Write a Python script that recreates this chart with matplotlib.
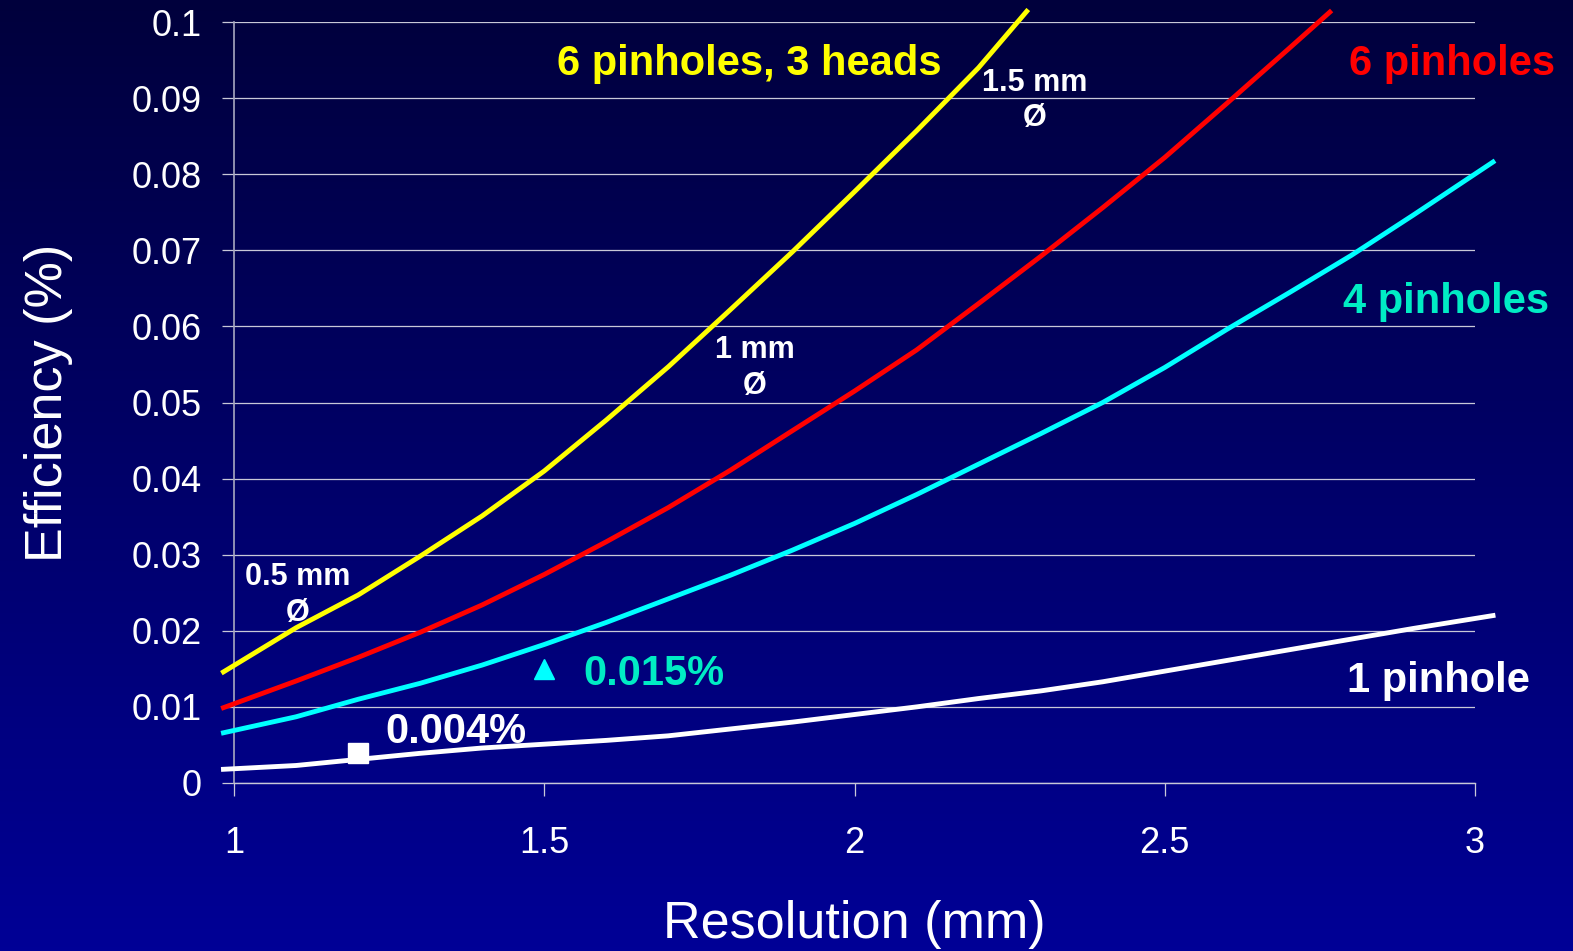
import numpy as np
import matplotlib
matplotlib.use('Agg')
import matplotlib.pyplot as plt
from matplotlib.colors import LinearSegmentedColormap

plt.rcParams['font.family'] = ['Liberation Sans', 'DejaVu Sans']

# resolution (mm) sample points
res_full = [0.983, 1.1, 1.2, 1.3, 1.4, 1.5, 1.6, 1.7, 1.8, 1.9, 2.0,
            2.1, 2.2, 2.3, 2.4, 2.5, 2.6, 2.7, 2.8, 2.9, 3.029]
res_6x3 = [0.983, 1.1, 1.2, 1.3, 1.4, 1.5, 1.6, 1.7, 1.8, 1.9, 2.0,
           2.1, 2.2, 2.2775]
res_6 = [0.983, 1.1, 1.2, 1.3, 1.4, 1.5, 1.6, 1.7, 1.8, 1.9, 2.0,
         2.1, 2.2, 2.3, 2.4, 2.5, 2.6, 2.7, 2.766]

# efficiency (%)
eff_6x3 = [0.0146, 0.0204, 0.0247, 0.0298, 0.0351, 0.0410, 0.0477, 0.0547,
           0.0622, 0.0698, 0.0777, 0.0857, 0.0940, 0.1014]
eff_6 = [0.0099, 0.0134, 0.0165, 0.0198, 0.0234, 0.0274, 0.0317, 0.0362,
         0.0411, 0.0463, 0.0515, 0.0569, 0.0630, 0.0692, 0.0756, 0.0822,
         0.0893, 0.0965, 0.1013]
eff_4 = [0.0066, 0.0087, 0.0110, 0.0131, 0.0155, 0.0182, 0.0211, 0.0242,
         0.0273, 0.0306, 0.0341, 0.0379, 0.0419, 0.0459, 0.0500, 0.0546,
         0.0596, 0.0644, 0.0693, 0.0746, 0.0816]
eff_1 = [0.0018, 0.0023, 0.0031, 0.0039, 0.0046, 0.0051, 0.0056, 0.0062,
         0.0071, 0.0080, 0.0090, 0.0100, 0.0111, 0.0121, 0.0133, 0.0147,
         0.0161, 0.0175, 0.0189, 0.0203, 0.0220]

# highlighted points
pt4_x, pt4_y = 1.5, 0.015
pt1_x, pt1_y = 1.2, 0.004

yticks = [0, 0.01, 0.02, 0.03, 0.04, 0.05, 0.06, 0.07, 0.08, 0.09, 0.1]
ytick_labels = ['0', '0.01', '0.02', '0.03', '0.04', '0.05', '0.06', '0.07',
                '0.08', '0.09', '0.1']
xticks = [1, 1.5, 2, 2.5, 3]
xtick_labels = ['1', '1.5', '2', '2.5', '3']

fig = plt.figure(figsize=(15.73, 9.51), dpi=100)

# gradient background
bg = fig.add_axes([0, 0, 1, 1], zorder=-10)
cmap = LinearSegmentedColormap.from_list('bg', ['#00003c', '#000096'])
bg.imshow(np.linspace(0, 1, 256).reshape(-1, 1), aspect='auto', cmap=cmap,
          extent=[0, 1, 0, 1], origin='upper')
bg.set_axis_off()

ax = fig.add_axes([234 / 1573, 1 - 783 / 951, (1475 - 234) / 1573, (783 - 22) / 951])
ax.set_facecolor('none')
ax.set_xlim(1, 3)
ax.set_ylim(0, 0.1)

grid_c = '#c8c8d8'
for s in ['top', 'right']:
    ax.spines[s].set_visible(False)
ax.spines['left'].set_color('#a8a8c0')
ax.spines['bottom'].set_color(grid_c)
ax.spines['left'].set_linewidth(1.2)
ax.spines['bottom'].set_linewidth(1.0)
ax.yaxis.grid(True, color=grid_c, linewidth=0.9)
ax.set_axisbelow(True)

ax.set_yticks(yticks)
ax.set_yticklabels(ytick_labels)
ax.set_xticks(xticks)
ax.set_xticklabels(xtick_labels)
ax.tick_params(axis='y', direction='out', length=9, width=0.9, color=grid_c,
               labelcolor='white', labelsize=26, pad=14)
ax.tick_params(axis='x', direction='out', length=9, width=0.9, color=grid_c,
               labelcolor='white', labelsize=26, pad=22)

ax.set_xlabel('Resolution (mm)', color='white', fontsize=37.5, labelpad=28)
ax.set_ylabel('Efficiency (%)', color='white', fontsize=37.5, labelpad=42)

lw = 3.5
ax.plot(res_6x3, eff_6x3, color='#ffff00', lw=lw, clip_on=False, zorder=3)
ax.plot(res_6, eff_6, color='#ff0000', lw=lw, clip_on=False, zorder=3)
ax.plot(res_full, eff_4, color='#00ffff', lw=lw, clip_on=False, zorder=3)
ax.plot(res_full, eff_1, color='white', lw=lw, clip_on=False, zorder=3)

ax.plot([pt4_x], [pt4_y], marker='^', color='#00ffff', ms=15, ls='none', zorder=4)
ax.plot([pt1_x], [pt1_y], marker='s', color='white', ms=15, ls='none', zorder=4)

lab = dict(fontsize=30, fontweight='bold', va='baseline', ha='left', clip_on=False)
ax.text(1.5205, 0.0930, '6 pinholes, 3 heads', color='#ffff00', **lab)
ax.text(2.797, 0.0930, '6 pinholes', color='#ff0000', **lab)
ax.text(2.787, 0.0618, '4 pinholes', color='#00ecc4', **lab)
ax.text(2.794, 0.0120, '1 pinhole', color='white', **lab)
ax.text(1.5624, 0.0129, '0.015%', color='#00ecc4', **lab)
ax.text(1.2434, 0.0053, '0.004%', color='white', **lab)

small = dict(fontsize=22, fontweight='bold', va='baseline', ha='center',
             color='white', clip_on=False)
for x, y1, y2, t in [(2.291, 0.0909, 0.0863, '1.5 mm'),
                     (1.8396, 0.0558, 0.0511, '1 mm'),
                     (1.103, 0.0260, 0.0213, '0.5 mm')]:
    ax.text(x, y1, t, **small)
    ax.text(x, y2, 'Ø', **small)

fig.savefig('out.png', dpi=100)
